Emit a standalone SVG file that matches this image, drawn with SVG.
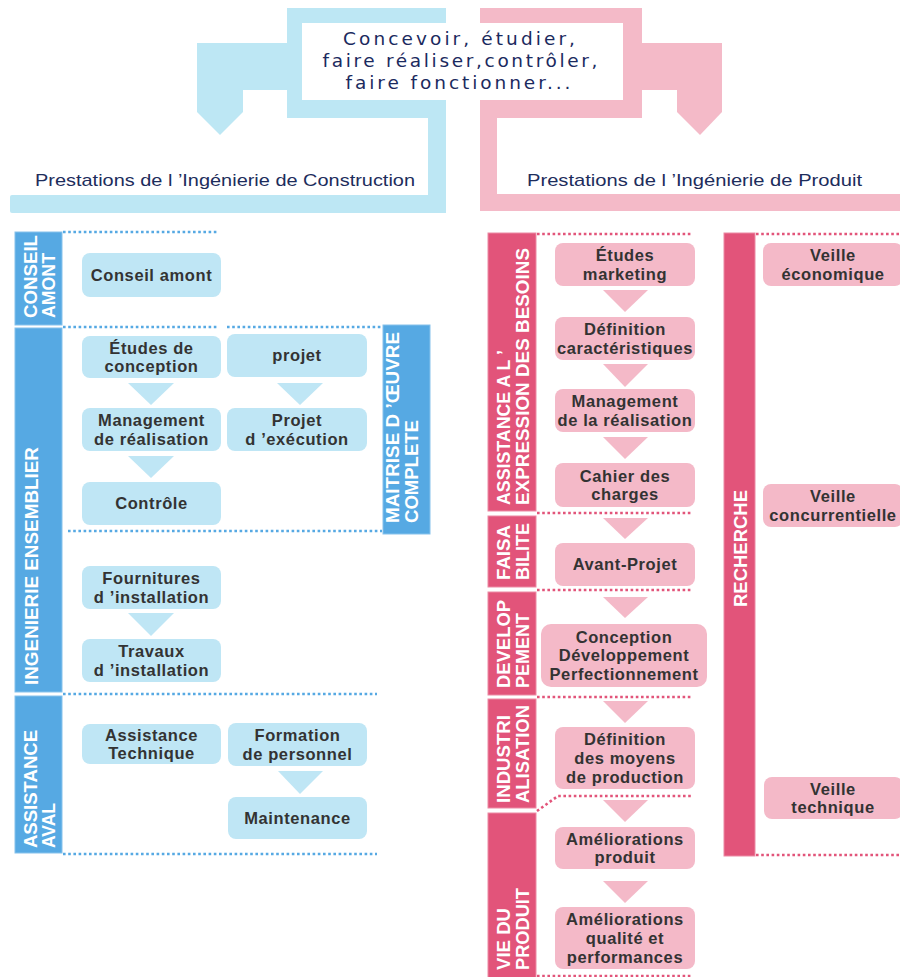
<svg xmlns="http://www.w3.org/2000/svg" width="900" height="977" viewBox="0 0 900 977">
<defs>
<style>
.hb{fill:#bde7f4}
.hp{fill:#f4bac8}
.bbox{fill:#bfe6f5}
.pbox{fill:#f4b9c8}
.bside{fill:#56a9e3;stroke:#86c2ec;stroke-width:1}
.pside{fill:#e2547a;stroke:#ec8aa4;stroke-width:1}
.btri{fill:#bfe6f5}
.ptri{fill:#f4b9c8}
.bdot{stroke:#56a9e3;stroke-width:2.6;stroke-dasharray:2.6 2.6;fill:none}
.pdot{stroke:#e2547a;stroke-width:2.6;stroke-dasharray:2.6 2.6;fill:none}
.head{font-family:"DejaVu Sans",Verdana,sans-serif;font-size:18.5px;fill:#1b2a5e;text-anchor:middle}
.sub{font-family:"Liberation Sans",Arial,sans-serif;font-size:17px;fill:#1d2d5c}
.t{font-family:"Liberation Sans",Arial,sans-serif;font-size:16.5px;letter-spacing:0.6px;font-weight:bold;fill:#333333;text-anchor:middle}
.s{font-family:"Liberation Sans",Arial,sans-serif;font-size:18px;font-weight:bold;fill:#ffffff}
</style>
</defs>
<rect width="900" height="977" fill="#ffffff"/>

<g id="header">
  <g id="header-blue" class="hb">
    <rect x="287" y="8" width="159" height="15"/>
    <rect x="287" y="8" width="15" height="110"/>
    <rect x="287" y="100" width="159" height="18"/>
    <rect x="428" y="100" width="18" height="113"/>
    <rect x="10" y="195" width="436" height="18" rx="2"/>
    <rect x="197" y="43" width="92" height="47"/>
    <polygon points="197,90 243,90 243,112 220,135 197,112"/>
  </g>
  <g id="header-pink" class="hp">
    <rect x="480" y="8" width="162" height="15"/>
    <rect x="623" y="8" width="19" height="110"/>
    <rect x="480" y="100" width="162" height="18"/>
    <rect x="480" y="100" width="17" height="111"/>
    <rect x="480" y="194" width="420" height="17"/>
    <rect x="640" y="43" width="82" height="47"/>
    <polygon points="677,90 722,90 722,112 700,135 677,112"/>
  </g>
  <text id="header-text" class="head"><tspan x="459" y="45" textLength="232" lengthAdjust="spacing">Concevoir, étudier,</tspan><tspan x="460" y="67" textLength="275" lengthAdjust="spacing">faire réaliser,contrôler,</tspan><tspan x="458" y="89" textLength="225" lengthAdjust="spacing">faire fonctionner...</tspan></text>
  <text id="title-construction" class="sub" x="35" y="186" textLength="380" lengthAdjust="spacingAndGlyphs">Prestations de l ’Ingénierie de Construction</text>
  <text id="title-produit" class="sub" x="527" y="186" textLength="335" lengthAdjust="spacingAndGlyphs">Prestations de l ’Ingénierie de Produit</text>
</g>

<g id="connectors">
  <g id="dotted-lines-blue">
    <line class="bdot" x1="63" y1="232" x2="218" y2="232"/>
    <line class="bdot" x1="63" y1="327" x2="218" y2="327"/>
    <line class="bdot" x1="227" y1="327" x2="382" y2="327"/>
    <line class="bdot" x1="68" y1="531" x2="382" y2="531"/>
    <line class="bdot" x1="63" y1="694" x2="377" y2="694"/>
    <line class="bdot" x1="63" y1="854" x2="377" y2="854"/>
  </g>
  <g id="dotted-lines-pink">
    <line class="pdot" x1="537" y1="234" x2="693" y2="234"/>
    <line class="pdot" x1="537" y1="513" x2="693" y2="513"/>
    <line class="pdot" x1="537" y1="590" x2="693" y2="590"/>
    <line class="pdot" x1="537" y1="697" x2="693" y2="697"/>
    <path class="pdot" d="M537,811 L558,796 L693,796"/>
    <line class="pdot" x1="537" y1="976" x2="693" y2="976"/>
    <line class="pdot" x1="756" y1="234" x2="900" y2="234"/>
    <line class="pdot" x1="756" y1="855" x2="900" y2="855"/>
  </g>
  <g id="arrows-blue" class="btri">
    <polygon points="128,383 174,383 151,405"/>
    <polygon points="277,383 323,383 300,405"/>
    <polygon points="128,456 174,456 151,478"/>
    <polygon points="128,613 174,613 151,636"/>
    <polygon points="278,771 323,771 300,794"/>
  </g>
  <g id="arrows-pink" class="ptri">
    <polygon points="603,290 648,290 625,312"/>
    <polygon points="603,364 648,364 625,387"/>
    <polygon points="603,437 648,437 625,459"/>
    <polygon points="603,518 648,518 625,539"/>
    <polygon points="603,597 648,597 625,618"/>
    <polygon points="603,701 648,701 625,723"/>
    <polygon points="603,800 648,800 625,822"/>
    <polygon points="603,881 648,881 625,903"/>
  </g>
</g>

<g id="sidebars-blue">
  <g id="side-conseil-amont">
    <rect class="bside" x="15" y="232" width="47" height="93"/>
    <text class="s" transform="translate(37,318) rotate(-90)" textLength="83" lengthAdjust="spacingAndGlyphs">CONSEIL</text>
    <text class="s" transform="translate(55,318) rotate(-90)" textLength="65" lengthAdjust="spacingAndGlyphs">AMONT</text>
  </g>
  <g id="side-ingenierie-ensemblier">
    <rect class="bside" x="15" y="328" width="47" height="364"/>
    <text class="s" transform="translate(38,685) rotate(-90)" textLength="238" lengthAdjust="spacingAndGlyphs">INGENIERIE ENSEMBLIER</text>
  </g>
  <g id="side-assistance-aval">
    <rect class="bside" x="15" y="696" width="47" height="157"/>
    <text class="s" transform="translate(37,848) rotate(-90)" textLength="118" lengthAdjust="spacingAndGlyphs">ASSISTANCE</text>
    <text class="s" transform="translate(55,848) rotate(-90)" textLength="45" lengthAdjust="spacingAndGlyphs">AVAL</text>
  </g>
  <g id="side-maitrise">
    <rect class="bside" x="383" y="325" width="47" height="209"/>
    <text class="s" transform="translate(399,523) rotate(-90)" textLength="191" lengthAdjust="spacingAndGlyphs">MAITRISE D ’ŒUVRE</text>
    <text class="s" transform="translate(418,523) rotate(-90)" textLength="103" lengthAdjust="spacingAndGlyphs">COMPLETE</text>
  </g>
</g>

<g id="sidebars-pink">
  <g id="side-assistance-besoins">
    <rect class="pside" x="488" y="233" width="48" height="278"/>
    <text class="s" transform="translate(510,505) rotate(-90)" textLength="155" lengthAdjust="spacingAndGlyphs">ASSISTANCE A L ’</text>
    <text class="s" transform="translate(529,505) rotate(-90)" textLength="257" lengthAdjust="spacingAndGlyphs">EXPRESSION DES BESOINS</text>
  </g>
  <g id="side-faisabilite">
    <rect class="pside" x="488" y="516" width="48" height="71"/>
    <text class="s" transform="translate(510,580) rotate(-90)" textLength="55" lengthAdjust="spacingAndGlyphs">FAISA</text>
    <text class="s" transform="translate(529,580) rotate(-90)" textLength="57" lengthAdjust="spacingAndGlyphs">BILITE</text>
  </g>
  <g id="side-developpement">
    <rect class="pside" x="488" y="592" width="48" height="103"/>
    <text class="s" transform="translate(510,688) rotate(-90)" textLength="88" lengthAdjust="spacingAndGlyphs">DEVELOP</text>
    <text class="s" transform="translate(529,688) rotate(-90)" textLength="75" lengthAdjust="spacingAndGlyphs">PEMENT</text>
  </g>
  <g id="side-industrialisation">
    <rect class="pside" x="488" y="699" width="48" height="109"/>
    <text class="s" transform="translate(510,803) rotate(-90)" textLength="88" lengthAdjust="spacingAndGlyphs">INDUSTRI</text>
    <text class="s" transform="translate(529,803) rotate(-90)" textLength="98" lengthAdjust="spacingAndGlyphs">ALISATION</text>
  </g>
  <g id="side-vie-produit">
    <rect class="pside" x="488" y="813" width="48" height="170"/>
    <text class="s" transform="translate(510,970) rotate(-90)" textLength="62" lengthAdjust="spacingAndGlyphs">VIE DU</text>
    <text class="s" transform="translate(529,970) rotate(-90)" textLength="82" lengthAdjust="spacingAndGlyphs">PRODUIT</text>
  </g>
  <g id="side-recherche">
    <rect class="pside" x="724" y="233" width="31" height="623"/>
    <text class="s" transform="translate(747,607) rotate(-90)" textLength="117" lengthAdjust="spacingAndGlyphs">RECHERCHE</text>
  </g>
</g>

<g id="nodes-construction">
  <g id="n-conseil-amont"><rect class="bbox" x="82" y="253" width="139" height="44" rx="8"/><text class="t" x="151.5" y="280.9">Conseil amont</text></g>
  <g id="n-etudes-conception"><rect class="bbox" x="82" y="336" width="139" height="42" rx="8"/><text class="t"><tspan x="151.5" y="353.5">Études de</tspan><tspan x="151.5" y="372.3">conception</tspan></text></g>
  <g id="n-projet"><rect class="bbox" x="227" y="334" width="140" height="43" rx="8"/><text class="t" x="297" y="361.4">projet</text></g>
  <g id="n-management-realisation"><rect class="bbox" x="82" y="408" width="139" height="43" rx="8"/><text class="t"><tspan x="151.5" y="426">Management</tspan><tspan x="151.5" y="444.8">de réalisation</tspan></text></g>
  <g id="n-projet-execution"><rect class="bbox" x="227" y="408" width="140" height="43" rx="8"/><text class="t"><tspan x="297" y="426">Projet</tspan><tspan x="297" y="444.8">d ’exécution</tspan></text></g>
  <g id="n-controle"><rect class="bbox" x="82" y="482" width="139" height="43" rx="8"/><text class="t" x="151.5" y="509.4">Contrôle</text></g>
  <g id="n-fournitures"><rect class="bbox" x="82" y="566" width="139" height="43" rx="8"/><text class="t"><tspan x="151.5" y="584">Fournitures</tspan><tspan x="151.5" y="602.8">d ’installation</tspan></text></g>
  <g id="n-travaux"><rect class="bbox" x="82" y="639" width="139" height="43" rx="8"/><text class="t"><tspan x="151.5" y="657">Travaux</tspan><tspan x="151.5" y="675.8">d ’installation</tspan></text></g>
  <g id="n-assistance-technique"><rect class="bbox" x="82" y="724" width="139" height="40" rx="8"/><text class="t"><tspan x="151.5" y="740.5">Assistance</tspan><tspan x="151.5" y="759.3">Technique</tspan></text></g>
  <g id="n-formation"><rect class="bbox" x="228" y="723" width="139" height="43" rx="8"/><text class="t"><tspan x="297.5" y="741">Formation</tspan><tspan x="297.5" y="759.8">de personnel</tspan></text></g>
  <g id="n-maintenance"><rect class="bbox" x="228" y="797" width="139" height="42" rx="8"/><text class="t" x="297.5" y="823.9">Maintenance</text></g>
</g>

<g id="nodes-produit">
  <g id="n-etudes-marketing"><rect class="pbox" x="555" y="243" width="140" height="43" rx="8"/><text class="t"><tspan x="625" y="261">Études</tspan><tspan x="625" y="279.8">marketing</tspan></text></g>
  <g id="n-definition-caracteristiques"><rect class="pbox" x="555" y="317" width="140" height="43" rx="8"/><text class="t"><tspan x="625" y="335">Définition</tspan><tspan x="625" y="353.8">caractéristiques</tspan></text></g>
  <g id="n-management-la-realisation"><rect class="pbox" x="555" y="389" width="140" height="43" rx="8"/><text class="t"><tspan x="625" y="407">Management</tspan><tspan x="625" y="425.8">de la réalisation</tspan></text></g>
  <g id="n-cahier-charges"><rect class="pbox" x="555" y="463" width="140" height="44" rx="8"/><text class="t"><tspan x="625" y="481.5">Cahier des</tspan><tspan x="625" y="500.3">charges</tspan></text></g>
  <g id="n-avant-projet"><rect class="pbox" x="555" y="543" width="140" height="43" rx="8"/><text class="t" x="625" y="570.4">Avant-Projet</text></g>
  <g id="n-conception-dev"><rect class="pbox" x="541" y="624" width="166" height="63" rx="10"/><text class="t"><tspan x="624" y="642.7">Conception</tspan><tspan x="624" y="661.4">Développement</tspan><tspan x="624" y="680.1">Perfectionnement</tspan></text></g>
  <g id="n-definition-moyens"><rect class="pbox" x="555" y="727" width="140" height="62" rx="8"/><text class="t"><tspan x="625" y="745.2">Définition</tspan><tspan x="625" y="763.9">des moyens</tspan><tspan x="625" y="782.6">de production</tspan></text></g>
  <g id="n-ameliorations-produit"><rect class="pbox" x="555" y="827" width="140" height="42" rx="8"/><text class="t"><tspan x="625" y="844.5">Améliorations</tspan><tspan x="625" y="863.3">produit</tspan></text></g>
  <g id="n-ameliorations-qualite"><rect class="pbox" x="555" y="907" width="140" height="62" rx="8"/><text class="t"><tspan x="625" y="925.2">Améliorations</tspan><tspan x="625" y="943.9">qualité et</tspan><tspan x="625" y="962.6">performances</tspan></text></g>
  <g id="n-veille-economique"><rect class="pbox" x="763" y="243" width="140" height="43" rx="8"/><text class="t"><tspan x="833" y="261">Veille</tspan><tspan x="833" y="279.8">économique</tspan></text></g>
  <g id="n-veille-concurrentielle"><rect class="pbox" x="763" y="484" width="140" height="43" rx="8"/><text class="t"><tspan x="833" y="502">Veille</tspan><tspan x="833" y="520.8">concurrentielle</tspan></text></g>
  <g id="n-veille-technique"><rect class="pbox" x="764" y="777" width="139" height="42" rx="8"/><text class="t"><tspan x="833" y="794.5">Veille</tspan><tspan x="833" y="813.3">technique</tspan></text></g>
</g>
</svg>
